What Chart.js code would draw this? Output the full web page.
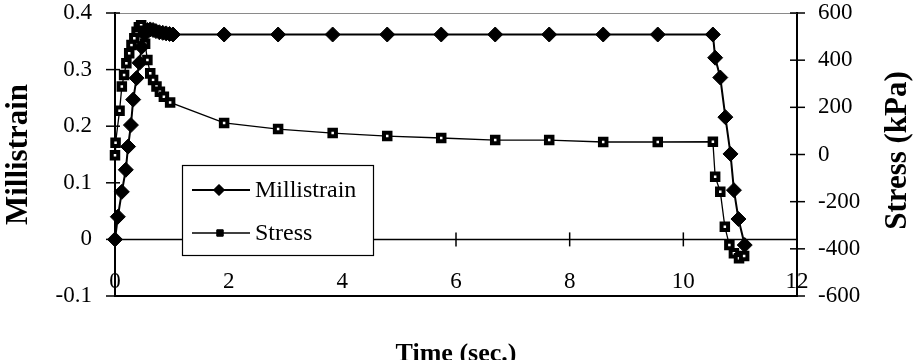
<!DOCTYPE html>
<html>
<head>
<meta charset="utf-8">
<script src="https://cdn.jsdelivr.net/npm/chart.js@4/dist/chart.umd.min.js"></script>
<style>
  html, body { margin: 0; padding: 0; background: #fff; }
  canvas { display: block; }
</style>
</head>
<body>
<canvas id="c" width="915" height="360"></canvas>
<script>
// Time (sec.) and millistrain readings
const strainTime = [0, 0.05, 0.12, 0.19, 0.23, 0.28, 0.32, 0.38, 0.43, 0.47, 0.52, 0.57, 0.62, 0.67, 0.72, 0.78, 0.84, 0.90, 0.96, 1.02,
  1.92, 2.87, 3.83, 4.79, 5.74, 6.69, 7.64, 8.59, 9.55, 10.52, 10.56, 10.65, 10.74, 10.83, 10.89, 10.97, 11.08];
const millistrain = [0, 0.040, 0.084, 0.123, 0.164, 0.202, 0.247, 0.285, 0.312, 0.340, 0.362, 0.370, 0.371, 0.370, 0.368, 0.366, 0.365, 0.364, 0.363, 0.362,
  0.362, 0.362, 0.362, 0.362, 0.362, 0.362, 0.362, 0.362, 0.362, 0.362, 0.321, 0.286, 0.216, 0.151, 0.087, 0.036, -0.010];

// Time (sec.) and stress readings (kPa)
const stressTime = [0, 0.01, 0.08, 0.12, 0.16, 0.20, 0.25, 0.29, 0.34, 0.38, 0.42, 0.46, 0.50, 0.53, 0.57, 0.62, 0.67, 0.73, 0.79, 0.86, 0.97,
  1.92, 2.87, 3.83, 4.79, 5.74, 6.69, 7.64, 8.59, 9.55, 10.52, 10.56, 10.65, 10.73, 10.81, 10.89, 10.98, 11.07];
const stress = [-3, 50, 185, 288, 337, 387, 429, 464, 493, 521, 540, 548, 525, 470, 401, 344, 316, 288, 266, 245, 221,
  134, 108, 91, 78, 70, 61, 61, 53, 53, 54, -94, -158, -306, -384, -419, -440, -430];

// Axis tick values
const timeTicks = [0, 2, 4, 6, 8, 10, 12];
const strainTicks = [-0.1, 0, 0.1, 0.2, 0.3, 0.4];
const stressTicks = [-600, -400, -200, 0, 200, 400, 600];

const serif = "'Liberation Serif', 'Times New Roman', serif";

const toPoints = (xs, ys) => xs.map((x, i) => ({ x, y: ys[i] }));

// Frame: top border, zero line with its ticks, and crossing ticks on both value axes
const framePlugin = {
  id: 'frame',
  beforeDatasetsDraw(chart) {
    const { ctx, chartArea: a, scales } = chart;
    const { x, y, y2 } = scales;
    const seg = (x1, y1, x2, y2_) => { ctx.beginPath(); ctx.moveTo(x1, y1); ctx.lineTo(x2, y2_); ctx.stroke(); };
    ctx.save();
    ctx.strokeStyle = '#8a8a8a';
    ctx.lineWidth = 1;
    seg(a.left, a.top + 0.5, a.right, a.top + 0.5);

    ctx.strokeStyle = '#000';
    ctx.lineWidth = 1.5;
    const y0 = y.getPixelForValue(0);
    seg(a.left, y0, a.right, y0);
    x.ticks.forEach(t => {
      if (t.value > x.min && t.value < x.max) {
        const px = x.getPixelForValue(t.value);
        seg(px, y0 - 7, px, y0 + 7);
      }
    });
    y.ticks.forEach(t => {
      const py = y.getPixelForValue(t.value);
      seg(a.left - 9, py, a.left + 5, py);
    });
    y2.ticks.forEach(t => {
      const py = y2.getPixelForValue(t.value);
      seg(a.right - 7, py, a.right + 8, py);
    });
    ctx.restore();
  },
  afterDraw(chart) {
    // right axis title, reading bottom to top
    const { ctx, chartArea: a, scales: { y2 } } = chart;
    const t = y2.options.title;
    ctx.save();
    ctx.font = 'bold 31px ' + serif;
    ctx.fillStyle = '#000';
    ctx.textAlign = 'center';
    ctx.textBaseline = 'middle';
    ctx.translate(898, (a.top + a.bottom) / 2 - 4);
    ctx.rotate(-Math.PI / 2);
    ctx.fillText(t.text, 0, 0);
    ctx.restore();
  }
};

// Boxed legend inside the plot
const boxLegendPlugin = {
  id: 'boxLegend',
  afterDatasetsDraw(chart) {
    const { ctx } = chart;
    const box = { left: 182, top: 165, right: 373, bottom: 255 };
    ctx.save();
    ctx.fillStyle = '#fff';
    ctx.fillRect(box.left, box.top, box.right - box.left, box.bottom - box.top);
    ctx.strokeStyle = '#000';
    ctx.lineWidth = 1.2;
    ctx.strokeRect(box.left + 0.5, box.top + 0.5, box.right - box.left, box.bottom - box.top);
    const rows = [190, 233];
    chart.data.datasets.forEach((ds, i) => {
      const yy = rows[i];
      ctx.strokeStyle = '#000';
      ctx.lineWidth = ds.borderWidth;
      ctx.beginPath(); ctx.moveTo(192, yy); ctx.lineTo(250, yy); ctx.stroke();
      ctx.fillStyle = '#000';
      ctx.lineWidth = 1;
      Chart.helpers.drawPoint(ctx, { pointStyle: ds.pointStyle, radius: i === 0 ? 5.5 : 4.5, borderWidth: 1, rotation: 0 }, i === 0 ? 219 : 220, yy);
      ctx.fill();
      ctx.font = '24px ' + serif;
      ctx.textBaseline = 'middle';
      ctx.textAlign = 'left';
      ctx.fillText(ds.label, 255, yy + 1);
    });
    ctx.restore();
  }
};

const noPadV = s => { s.paddingTop = 0; s.paddingBottom = 0; };

new Chart(document.getElementById('c'), {
  type: 'line',
  data: {
    datasets: [
      {
        label: 'Millistrain',
        data: toPoints(strainTime, millistrain),
        yAxisID: 'y',
        borderColor: '#000',
        borderWidth: 2,
        pointStyle: 'rectRot',
        pointRadius: 7.5,
        pointBackgroundColor: '#000',
        pointBorderColor: '#000',
        pointBorderWidth: 1,
        tension: 0,
        clip: false
      },
      {
        label: 'Stress',
        data: toPoints(stressTime, stress),
        yAxisID: 'y2',
        borderColor: '#000',
        borderWidth: 1.3,
        pointStyle: 'rect',
        pointRadius: 4.6,
        pointBackgroundColor: '#fff',
        pointBorderColor: '#000',
        pointBorderWidth: 4,
        tension: 0,
        clip: false
      }
    ]
  },
  options: {
    responsive: false,
    animation: false,
    devicePixelRatio: 1,
    layout: { padding: { top: 13, left: 0, right: 0, bottom: 0 } },
    plugins: { legend: { display: false }, tooltip: { enabled: false } },
    scales: {
      x: {
        type: 'linear',
        position: 'bottom',
        min: 0, max: 12,
        afterBuildTicks: s => { s.ticks = timeTicks.map(v => ({ value: v })); },
        afterFit: s => { s.height = 64; s.paddingLeft = 0; s.paddingRight = 0; },
        grid: { display: false, drawTicks: false },
        border: { display: true, color: '#000', width: 2 },
        ticks: { color: '#000', mirror: true, padding: 0, maxRotation: 0, autoSkip: false, font: { family: serif, size: 23 }, callback: v => String(v) },
        title: { display: true, text: 'Time (sec.)', color: '#000', padding: { top: 0, bottom: -10 }, font: { family: serif, size: 26, weight: 'bold', lineHeight: 1.2 } }
      },
      y: {
        type: 'linear',
        position: 'left',
        min: -0.1, max: 0.4,
        afterBuildTicks: s => { s.ticks = strainTicks.map(v => ({ value: v })); },
        afterFit: s => { s.width = 115; noPadV(s); },
        grid: { display: false, drawTicks: false },
        border: { display: true, color: '#000', width: 2 },
        ticks: { color: '#000', padding: 23, font: { family: serif, size: 23 }, callback: v => String(Math.round(v * 10) / 10) },
        title: { display: true, text: 'Millistrain', color: '#000', padding: { top: 0, bottom: 0 }, font: { family: serif, size: 31, weight: 'bold', lineHeight: 1.2 } }
      },
      y2: {
        type: 'linear',
        position: 'right',
        min: -600, max: 600,
        afterBuildTicks: s => { s.ticks = stressTicks.map(v => ({ value: v })); },
        afterFit: s => { s.width = 118; noPadV(s); },
        grid: { display: false, drawTicks: false },
        border: { display: true, color: '#000', width: 2 },
        ticks: { color: '#000', padding: 21, font: { family: serif, size: 23 }, callback: v => String(v) },
        title: { display: false, text: 'Stress (kPa)' }
      }
    }
  },
  plugins: [framePlugin, boxLegendPlugin]
});
</script>
</body>
</html>
